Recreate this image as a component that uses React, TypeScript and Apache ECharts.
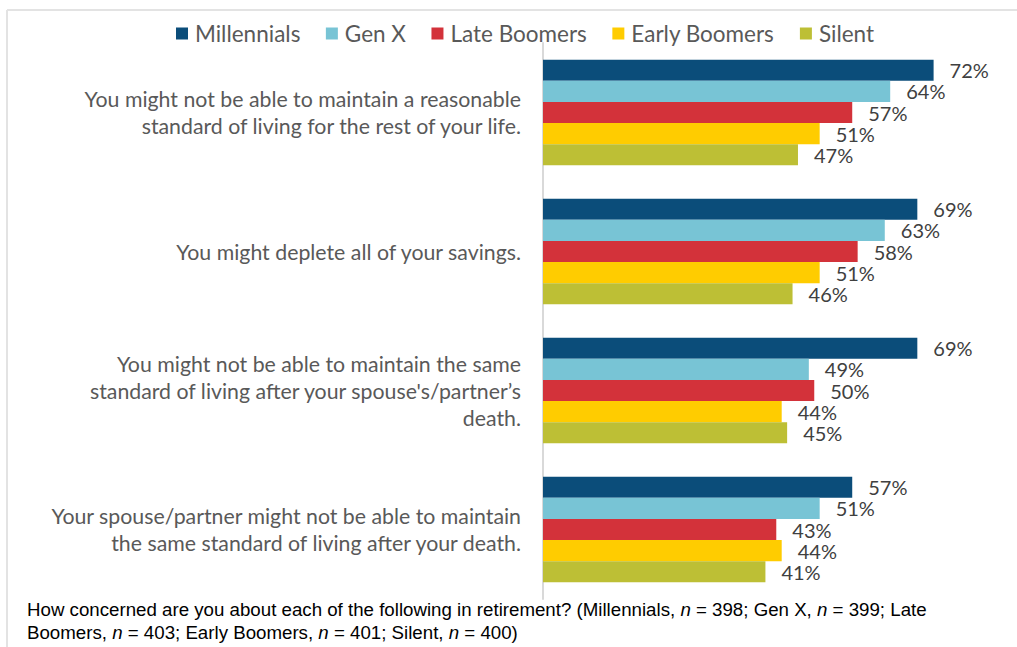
import React, { useEffect, useRef } from "react";
import * as echarts from "echarts";

const categories = [
  "You might not be able to maintain a reasonable\nstandard of living for the rest of your life.",
  "You might deplete all of your savings.",
  "You might not be able to maintain the same\nstandard of living after your spouse's/partner’s\ndeath.",
  "Your spouse/partner might not be able to maintain\nthe same standard of living after your death.",
];

const seriesNames = ["Millennials", "Gen X", "Late Boomers", "Early Boomers", "Silent"];
const millennials = [72, 69, 69, 57];
const genX = [64, 63, 49, 51];
const lateBoomers = [57, 58, 50, 43];
const earlyBoomers = [51, 51, 44, 44];
const silent = [47, 46, 45, 41];
const seriesValues = [millennials, genX, lateBoomers, earlyBoomers, silent];
const colors = ["#0B4D7A", "#78C4D5", "#D3323A", "#FFCC00", "#BDBF35"];

const footnote =
  "How concerned are you about each of the following in retirement? (Millennials, {i|n} = 398; Gen X, {i|n} = 399; Late\nBoomers, {i|n} = 403; Early Boomers, {i|n} = 401; Silent, {i|n} = 400)";

export default function App() {
  const ref = useRef<HTMLDivElement>(null);
  useEffect(() => {
    if (!ref.current) return;
    const chart = echarts.init(ref.current, null, { renderer: "svg" });
    chart.setOption({
      animation: false,
      backgroundColor: "#ffffff",
      legend: {
        data: seriesNames,
        top: 17,
        left: 171,
        itemWidth: 12,
        itemHeight: 12,
        itemGap: 25.5,
        icon: "rect",
        textStyle: { fontFamily: "Lato", fontSize: 22.5, color: "#595959", padding: [0, 0, 0, 2] },
      },
      title: {
        text: footnote,
        left: 27,
        top: 598,
        padding: 0,
        textStyle: {
          fontFamily: "Liberation Sans",
          fontSize: 18.7,
          fontWeight: "normal",
          color: "#000000",
          lineHeight: 23,
          rich: {
            i: {
              fontFamily: "Liberation Sans",
              fontSize: 18.7,
              fontStyle: "italic",
              color: "#000000",
              lineHeight: 23,
            },
          },
        },
      },
      grid: { left: 543, right: 40, top: 43, bottom: 48 },
      xAxis: { type: "value", min: 0, max: 80, show: false },
      yAxis: {
        type: "category",
        data: categories,
        inverse: true,
        axisLine: { show: true, lineStyle: { color: "#D9D9D9", width: 2 } },
        axisTick: { show: false },
        axisLabel: {
          margin: 22,
          fontFamily: "Lato",
          fontSize: 21.3,
          color: "#595959",
          lineHeight: 27,
          align: "right",
        },
      },
      graphic: [
        { type: "line", shape: { x1: 7, y1: 10, x2: 1017, y2: 10 }, style: { stroke: "#E3E3E3", lineWidth: 2 } },
        { type: "line", shape: { x1: 7, y1: 10, x2: 7, y2: 647 }, style: { stroke: "#E3E3E3", lineWidth: 2 } },
      ],
      series: seriesNames.map((name, i) => ({
        name,
        type: "bar",
        data: seriesValues[i],
        barGap: "0%",
        barCategoryGap: "24%",
        itemStyle: { color: colors[i] },
        label: {
          show: true,
          position: "right",
          distance: 16,
          formatter: "{c}%",
          fontFamily: "Lato",
          fontSize: 20,
          lineHeight: 20,
          color: "#404040",
        },
      })),
    });
    return () => chart.dispose();
  }, []);
  return (
    <div
      ref={ref}
      style={{ position: "fixed", left: 0, top: 0, width: 1017, height: 647 }}
    />
  );
}
